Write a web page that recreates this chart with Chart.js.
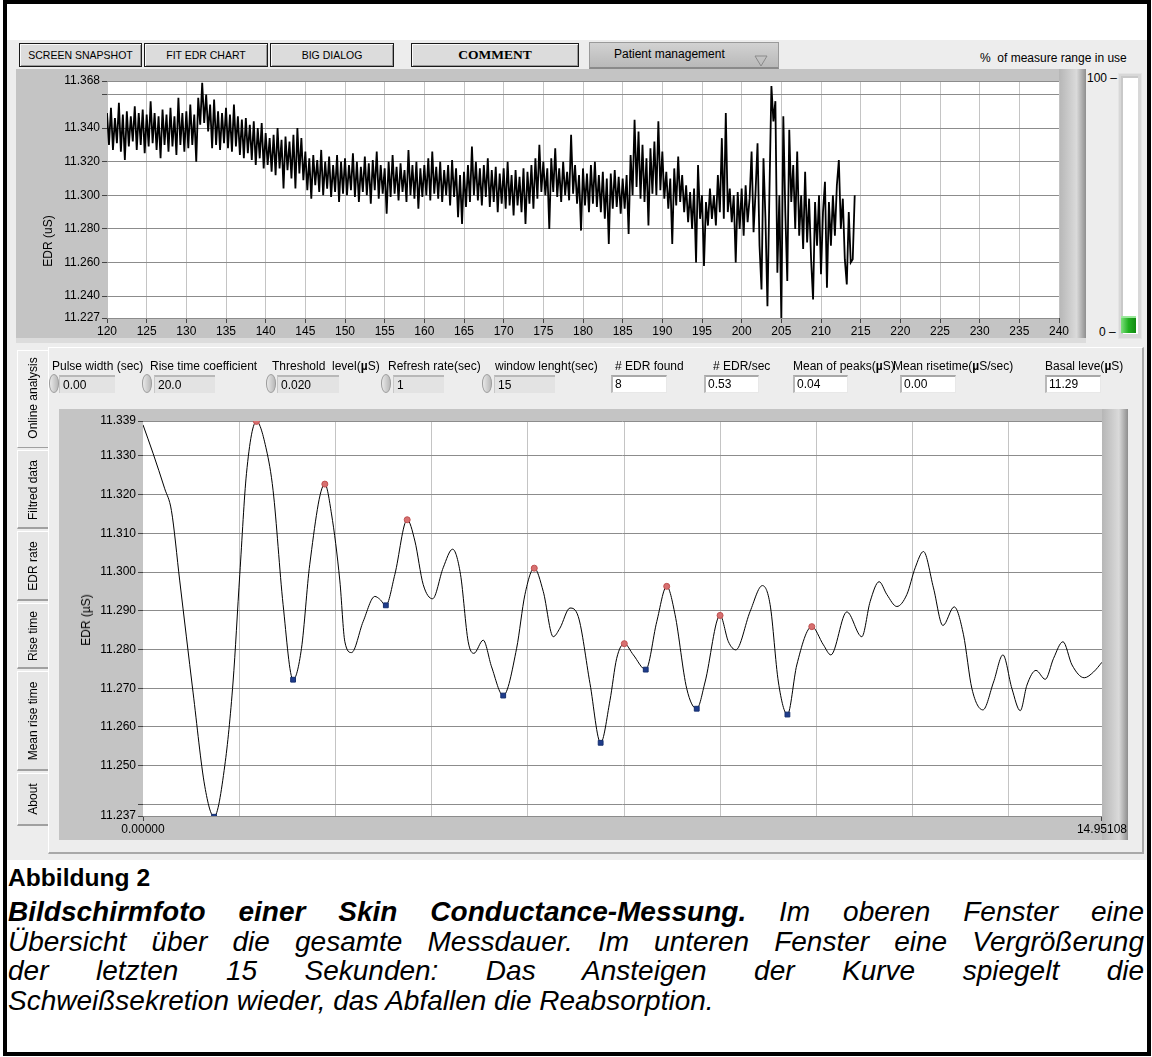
<!DOCTYPE html>
<html><head><meta charset="utf-8">
<script src="https://cdn.jsdelivr.net/npm/chart.js@4/dist/chart.umd.min.js"></script>
<style>
*{box-sizing:border-box}
body{margin:0;width:1152px;height:1057px;position:relative;background:#fff;overflow:hidden;font-family:"Liberation Sans",Arial,sans-serif;color:#000}
.a{position:absolute}
#border{left:3px;top:0;width:1148px;height:1056px;border:4px solid #000}
#panel{left:7px;top:40px;width:1140px;height:820px;background:#ededed}
.btn{top:43px;height:24px;background:#dcdcdc;border:1px solid #1a1a1a;box-shadow:inset 1px 1px 0 #fafafa,inset -1px -1px 0 #9a9a9a;font-size:10.5px;display:flex;align-items:center;justify-content:center;white-space:nowrap}
.lbl{font-size:12px;white-space:nowrap}
.rot{position:absolute;transform:translate(-50%,-50%) rotate(-90deg);white-space:nowrap;font-size:12px}
.ctl{height:18px;background:#e3e3e3;border-top:2px solid #b8b8b8;border-left:1px solid #c8c8c8;font-size:12px;padding-left:3px;line-height:16px}
.ind{height:18px;background:#fff;border-top:2px solid #a8a8a8;border-left:2px solid #b8b8b8;border-right:1px solid #e8e8e8;border-bottom:1px solid #e8e8e8;font-size:12px;padding-left:2px;line-height:15px}
.spin{width:10px;height:19px;border-radius:5px/9px;background:linear-gradient(90deg,#e8e8e8,#b8b8b8);border:1px solid #9c9c9c}
.tab{left:17px;width:31px;background:#e6e6e6;border-left:1px solid #fff;border-top:1px solid #fff;border-bottom:2px solid #a0a0a0}
.cap{left:8px;width:1136px;font-size:28px;line-height:29.5px;font-style:italic;white-space:nowrap}
.just{text-align:justify;text-align-last:justify}
</style></head>
<body>
<div id="panel" class="a"></div>
<div id="border" class="a"></div>

<div class="a btn" style="left:19px;width:123px">SCREEN SNAPSHOT</div>
<div class="a btn" style="left:144px;width:124px">FIT EDR CHART</div>
<div class="a btn" style="left:270px;width:124px">BIG DIALOG</div>
<div class="a btn" style="left:411px;width:168px;font-family:'Liberation Serif',serif;font-weight:bold;font-size:13.5px">COMMENT</div>
<div class="a" style="left:589px;top:42px;width:190px;height:27px;background:linear-gradient(#d2d2d2,#b9b9b9);border:1px solid #9a9a9a;border-bottom:2px solid #8a8a8a"></div>
<div class="a lbl" style="left:614px;top:47px">Patient management</div>
<svg class="a" style="left:754px;top:55px" width="14" height="12"><path d="M1 1 L13 1 L7 11 Z" fill="none" stroke="#8a8a8a" stroke-width="1"/></svg>
<div class="a lbl" style="left:980px;top:51px">%&nbsp; of measure range in use</div>

<!-- top chart -->
<div class="a" style="left:16px;top:338px;width:1070px;height:5px;background:#dcdcdc"></div>
<canvas id="topChart" class="a" style="left:16px;top:69px" width="1070" height="269"></canvas>
<div class="rot" style="left:48px;top:241px">EDR (uS)</div>

<!-- gauge -->
<div class="a lbl" style="left:1087px;top:71px">100 –</div>
<div class="a lbl" style="left:1099px;top:325px">0 –</div>
<div class="a" style="left:1118px;top:73px;width:24px;height:266px;background:#d8d8d8;border:1px solid #e4e4e4"></div>
<div class="a" style="left:1121px;top:76px;width:17px;height:258px;background:#fff;border-left:2px solid #c9c9c9;border-top:2px solid #c9c9c9"></div>
<div class="a" style="left:1121px;top:316px;width:15px;height:17px;background:linear-gradient(90deg,#7de07d,#22b022 50%,#118a11);border-top:2px solid #9be89b"></div>

<!-- tab page -->
<div class="a" style="left:48px;top:347px;width:1096px;height:507px;border-left:1px solid #fff;border-top:1px solid #fff;border-right:2px solid #a8a8a8;border-bottom:2px solid #a8a8a8"></div>
<div class="a tab" style="top:350px;height:98px;background:#ededed;border-bottom:1px solid #a0a0a0"></div>
<div class="a tab" style="top:450px;height:79px"></div>
<div class="a tab" style="top:531px;height:70px"></div>
<div class="a tab" style="top:603px;height:66px"></div>
<div class="a tab" style="top:671px;height:100px"></div>
<div class="a tab" style="top:773px;height:53px"></div>
<div class="rot" style="left:33px;top:398px">Online analysis</div>
<div class="rot" style="left:33px;top:490px">Filtred data</div>
<div class="rot" style="left:33px;top:566px">EDR rate</div>
<div class="rot" style="left:33px;top:636px">Rise time</div>
<div class="rot" style="left:33px;top:721px">Mean rise time</div>
<div class="rot" style="left:33px;top:799px">About</div>

<!-- controls row -->
<div class="a lbl" style="left:52px;top:359px">Pulse width (sec)</div>
<div class="a spin" style="left:49px;top:374px"></div><div class="a ctl" style="left:59px;top:375px;width:56px">0.00</div>
<div class="a lbl" style="left:150px;top:359px">Rise time coefficient</div>
<div class="a spin" style="left:142px;top:374px"></div><div class="a ctl" style="left:154px;top:375px;width:61px">20.0</div>
<div class="a lbl" style="left:272px;top:359px">Threshold&nbsp; level(<b>µ</b>S)</div>
<div class="a spin" style="left:266px;top:374px"></div><div class="a ctl" style="left:277px;top:375px;width:62px">0.020</div>
<div class="a lbl" style="left:388px;top:359px">Refresh rate(sec)</div>
<div class="a spin" style="left:381px;top:374px"></div><div class="a ctl" style="left:393px;top:375px;width:51px">1</div>
<div class="a lbl" style="left:495px;top:359px">window lenght(sec)</div>
<div class="a spin" style="left:482px;top:374px"></div><div class="a ctl" style="left:494px;top:375px;width:61px">15</div>
<div class="a lbl" style="left:615px;top:359px"># EDR found</div>
<div class="a ind" style="left:611px;top:375px;width:56px">8</div>
<div class="a lbl" style="left:713px;top:359px"># EDR/sec</div>
<div class="a ind" style="left:704px;top:375px;width:55px">0.53</div>
<div class="a lbl" style="left:793px;top:359px">Mean of peaks(<b>µ</b>S)</div>
<div class="a ind" style="left:793px;top:375px;width:55px">0.04</div>
<div class="a lbl" style="left:893px;top:359px">Mean risetime(<b>µ</b>S/sec)</div>
<div class="a ind" style="left:900px;top:375px;width:56px">0.00</div>
<div class="a lbl" style="left:1045px;top:359px">Basal leve(<b>µ</b>S)</div>
<div class="a ind" style="left:1045px;top:375px;width:56px">11.29</div>

<!-- lower chart -->
<canvas id="lowChart" class="a" style="left:59px;top:409px" width="1069" height="431"></canvas>
<div class="rot" style="left:86px;top:620px">EDR (µS)</div>

<!-- caption -->
<div class="a" style="left:8px;top:864px;font-size:24.6px;font-weight:bold;white-space:nowrap">Abbildung 2</div>
<div class="a cap just" style="top:897px"><b>Bildschirmfoto einer Skin Conductance-Messung.</b> Im oberen Fenster eine</div>
<div class="a cap just" style="top:926.5px">Übersicht über die gesamte Messdauer. Im unteren Fenster eine Vergrößerung</div>
<div class="a cap just" style="top:956px">der letzten 15 Sekunden: Das Ansteigen der Kurve spiegelt die</div>
<div class="a cap" style="top:985.5px">Schweißsekretion wieder, das Abfallen die Reabsorption.</div>

<script>
// ---------- data: top overview (EDR in µS, read every 0.25 s from 120 s) ----------
const topStart = 120;
const topStep = 0.25;
const topValues = [
  // 120-125
  11.349,11.330,11.352,11.327,11.346,11.331,11.355,11.326,11.348,11.321,11.350,11.329,11.347,11.332,11.353,11.327,11.349,11.330,11.351,11.325,
  // 125-130
  11.348,11.329,11.356,11.331,11.349,11.327,11.347,11.322,11.351,11.330,11.348,11.326,11.352,11.329,11.347,11.324,11.358,11.330,11.349,11.326,
  // 130-135
  11.350,11.328,11.354,11.330,11.348,11.320,11.358,11.342,11.367,11.343,11.360,11.338,11.354,11.328,11.357,11.330,11.350,11.327,11.349,11.331,
  // 135-140
  11.352,11.328,11.348,11.326,11.354,11.329,11.347,11.324,11.345,11.322,11.346,11.325,11.342,11.321,11.344,11.318,11.340,11.322,11.343,11.316,
  // 140-145
  11.337,11.318,11.334,11.314,11.336,11.312,11.340,11.316,11.333,11.304,11.335,11.315,11.332,11.310,11.336,11.304,11.340,11.313,11.334,11.309,
  // 145-150
  11.326,11.303,11.322,11.298,11.324,11.306,11.321,11.302,11.327,11.300,11.320,11.304,11.323,11.299,11.318,11.302,11.324,11.296,11.320,11.301,
  // 150-155
  11.322,11.300,11.318,11.303,11.325,11.299,11.320,11.296,11.317,11.302,11.323,11.300,11.319,11.295,11.321,11.303,11.326,11.298,11.318,11.301,
  // 155-160
  11.316,11.289,11.320,11.299,11.324,11.301,11.317,11.297,11.319,11.302,11.315,11.296,11.327,11.300,11.318,11.298,11.320,11.292,11.316,11.299,
  // 160-165
  11.318,11.300,11.322,11.297,11.326,11.301,11.317,11.298,11.320,11.296,11.315,11.300,11.318,11.294,11.321,11.299,11.316,11.287,11.312,11.283,
  // 165-170
  11.314,11.293,11.318,11.296,11.329,11.300,11.320,11.297,11.316,11.294,11.318,11.299,11.322,11.293,11.315,11.296,11.317,11.290,11.313,11.295,
  // 170-175
  11.316,11.292,11.320,11.294,11.312,11.288,11.315,11.294,11.311,11.290,11.316,11.283,11.314,11.295,11.318,11.292,11.322,11.298,11.330,11.302,
  // 175-180
  11.320,11.300,11.316,11.280,11.322,11.302,11.328,11.299,11.316,11.296,11.320,11.300,11.314,11.297,11.336,11.301,11.318,11.295,11.312,11.279,
  // 180-185
  11.316,11.294,11.313,11.290,11.318,11.295,11.320,11.293,11.312,11.290,11.314,11.286,11.310,11.271,11.313,11.292,11.315,11.293,11.311,11.289,
  // 185-190
  11.310,11.292,11.312,11.277,11.324,11.300,11.345,11.305,11.338,11.298,11.330,11.296,11.322,11.282,11.328,11.301,11.332,11.300,11.344,11.303,
  // 190-195
  11.326,11.298,11.314,11.292,11.310,11.271,11.316,11.294,11.323,11.296,11.312,11.290,11.306,11.284,11.302,11.280,11.304,11.260,11.318,11.286,
  // 195-200
  11.300,11.258,11.296,11.282,11.304,11.286,11.300,11.282,11.312,11.290,11.334,11.286,11.349,11.290,11.304,11.284,11.300,11.260,11.302,11.280,
  // 200-205
  11.304,11.276,11.306,11.284,11.298,11.326,11.278,11.302,11.331,11.270,11.244,11.322,11.286,11.234,11.302,11.365,11.344,11.356,11.254,11.300,
  // 205-210
  11.226,11.347,11.290,11.249,11.339,11.296,11.318,11.280,11.326,11.276,11.300,11.268,11.314,11.272,11.298,11.262,11.238,11.296,11.270,11.300,
  // 210-214.25
  11.253,11.290,11.308,11.245,11.296,11.270,11.300,11.276,11.306,11.321,11.280,11.298,11.262,11.247,11.290,11.260,11.262,11.300
];
const topYTicks = [11.227,11.24,11.26,11.28,11.30,11.32,11.34,11.36,11.368];
const topYUnlabeled = [11.36];

// ---------- data: lower zoom (last 15 s) ----------
const lowX = [0,0.156,0.339,0.443,0.573,0.78,0.963,1.108,1.275,1.404,1.509,1.613,1.769,1.925,2.028,2.184,2.34,2.471,2.60,2.835,2.939,3.069,3.147,3.251,3.432,3.615,3.69,3.786,3.927,4.119,4.239,4.368,4.515,4.68,4.827,4.95,5.07,5.159,5.304,5.435,5.616,5.825,5.955,6.10,6.24,6.396,6.50,6.657,6.786,6.969,7.135,7.28,7.385,7.504,7.645,7.838,8.01,8.165,8.295,8.477,8.633,8.763,8.997,9.127,9.242,9.465,9.657,9.777,9.906,10.047,10.193,10.427,10.608,10.724,10.973,11.207,11.337,11.477,11.597,11.753,11.909,12.039,12.168,12.324,12.471,12.647,12.792,12.923,13.095,13.261,13.407,13.547,13.677,13.781,13.922,14.067,14.196,14.343,14.484,14.675,14.82,14.95108];
const lowY = [11.338,11.3307,11.3215,11.3159,11.2977,11.269,11.2447,11.2368,11.2500,11.2716,11.2994,11.3254,11.3389,11.3315,11.3211,11.2916,11.2722,11.2803,11.302,11.3227,11.315,11.2977,11.282,11.2792,11.2872,11.2937,11.293,11.2914,11.2994,11.3135,11.308,11.2968,11.2931,11.3011,11.3059,11.2994,11.282,11.279,11.2824,11.2755,11.2681,11.2803,11.2942,11.301,11.295,11.2833,11.2855,11.2907,11.2885,11.2712,11.2559,11.2668,11.2777,11.2815,11.2786,11.2748,11.2872,11.2963,11.289,11.2699,11.2647,11.2716,11.2888,11.282,11.2799,11.2898,11.2965,11.2916,11.2716,11.2632,11.276,11.2859,11.2812,11.2786,11.2897,11.2833,11.2924,11.2975,11.2942,11.2911,11.2942,11.3011,11.3053,11.2959,11.2862,11.291,11.2838,11.2699,11.2644,11.2716,11.2786,11.2699,11.2642,11.2708,11.2746,11.2723,11.2777,11.282,11.276,11.2727,11.2742,11.2767];
const peakX = [1.769,2.835,4.119,6.10,7.504,8.165,8.997,10.427];
const peakY = [11.3389,11.3227,11.3135,11.301,11.2815,11.2963,11.2888,11.2859];
const troughX = [1.108,2.34,3.786,5.616,7.135,7.838,8.633,10.047];
const troughY = [11.2368,11.2722,11.2914,11.2681,11.2559,11.2748,11.2647,11.2632];
const lowXTicks = [0,1.5,3,4.5,6,7.5,9,10.5,12,13.5,14.95108];
const lowXLabels = {0:'0.00000',14.95108:'14.95108'};
const lowYTicks = [11.237,11.24,11.25,11.26,11.27,11.28,11.29,11.30,11.31,11.32,11.33,11.339];
const lowYUnlabeled = [11.24];

// ---------- helpers ----------
const framePlugin = {
  id:'frame',
  beforeDraw(chart){
    const {ctx, chartArea:a, width, height} = chart;
    ctx.save();
    ctx.fillStyle = '#c4c4c4';
    ctx.fillRect(0,0,width,height);
    const g = ctx.createLinearGradient(a.right,0,width,0);
    g.addColorStop(0,'#b6b6b6'); g.addColorStop(0.65,'#dadada'); g.addColorStop(1,'#8e8e8e');
    ctx.fillStyle = g; ctx.fillRect(a.right,0,width-a.right,height);
    ctx.fillStyle = '#fff';
    ctx.fillRect(a.left,a.top,a.right-a.left,a.bottom-a.top);
    ctx.restore();
  }
};
Chart.defaults.font = {family:'"Liberation Sans", Arial, sans-serif', size:12};
Chart.defaults.color = '#000';

// top chart
const topData = topValues.map((v,i)=>({x: topStart + i*topStep, y: v}));
new Chart(document.getElementById('topChart'), {
  type:'line',
  data:{datasets:[{data:topData, borderColor:'#000', borderWidth:1.8, pointRadius:0, tension:0}]},
  options:{
    responsive:false, animation:false, events:[],
    layout:{padding:{top:12,right:27,left:0,bottom:0}},
    plugins:{legend:{display:false}, tooltip:{enabled:false}},
    scales:{
      x:{type:'linear', min:120, max:240,
         ticks:{stepSize:5, autoSkip:false, maxRotation:0, padding:1, callback:v=>String(v)},
         grid:{color:'#c4c4c4', tickColor:'#444', tickLength:5},
         border:{display:false},
         afterFit(s){ s.height = 20; }},
      y:{type:'linear', min:11.227, max:11.368,
         afterBuildTicks(s){ s.ticks = topYTicks.map(v=>({value:v})); },
         ticks:{padding:2, callback:v=> topYUnlabeled.some(u=>Math.abs(u-v)<1e-9) ? '' : v.toFixed(3)},
         grid:{color:'#8c8c8c', tickColor:'#444', tickLength:5},
         border:{display:false},
         afterFit(s){ s.width = 91; }}
    }
  },
  plugins:[framePlugin]
});

// lower chart
const lowData = lowX.map((x,i)=>({x, y: lowY[i]}));
const peaks = peakX.map((x,i)=>({x, y: peakY[i]}));
const troughs = troughX.map((x,i)=>({x, y: troughY[i]}));
new Chart(document.getElementById('lowChart'), {
  type:'line',
  data:{datasets:[
    {data:troughs, showLine:false, pointStyle:'rect', pointRadius:3.4, backgroundColor:'#1f3c8c', borderColor:'#16306e', borderWidth:1},
    {data:peaks, showLine:false, pointStyle:'circle', pointRadius:3, backgroundColor:'#d77070', borderColor:'#c05050', borderWidth:1},
    {data:lowData, borderColor:'#000', borderWidth:1, pointRadius:0, cubicInterpolationMode:'monotone'}
  ]},
  options:{
    responsive:false, animation:false, events:[],
    layout:{padding:{top:12,right:26,left:0,bottom:0}},
    plugins:{legend:{display:false}, tooltip:{enabled:false}},
    scales:{
      x:{type:'linear', min:0, max:14.95108,
         afterBuildTicks(s){ s.ticks = lowXTicks.map(v=>({value:v})); },
         ticks:{autoSkip:false, maxRotation:0, padding:1, callback:v=> lowXLabels[v] || ''},
         grid:{color:c=> (c.tick && lowXLabels[c.tick.value]) ? 'rgba(0,0,0,0)' : '#c4c4c4',
               tickColor:c=> (c.tick && lowXLabels[c.tick.value]) ? '#444' : 'rgba(0,0,0,0)', tickLength:5},
         border:{display:false},
         afterFit(s){ s.height = 24; }},
      y:{type:'linear', min:11.237, max:11.339,
         afterBuildTicks(s){ s.ticks = lowYTicks.map(v=>({value:v})); },
         ticks:{padding:2, callback:v=> lowYUnlabeled.some(u=>Math.abs(u-v)<1e-9) ? '' : v.toFixed(3)},
         grid:{color:'#8c8c8c', tickColor:'#444', tickLength:5},
         border:{display:false},
         afterFit(s){ s.width = 84; }}
    }
  },
  plugins:[framePlugin]
});
</script>
</body></html>
